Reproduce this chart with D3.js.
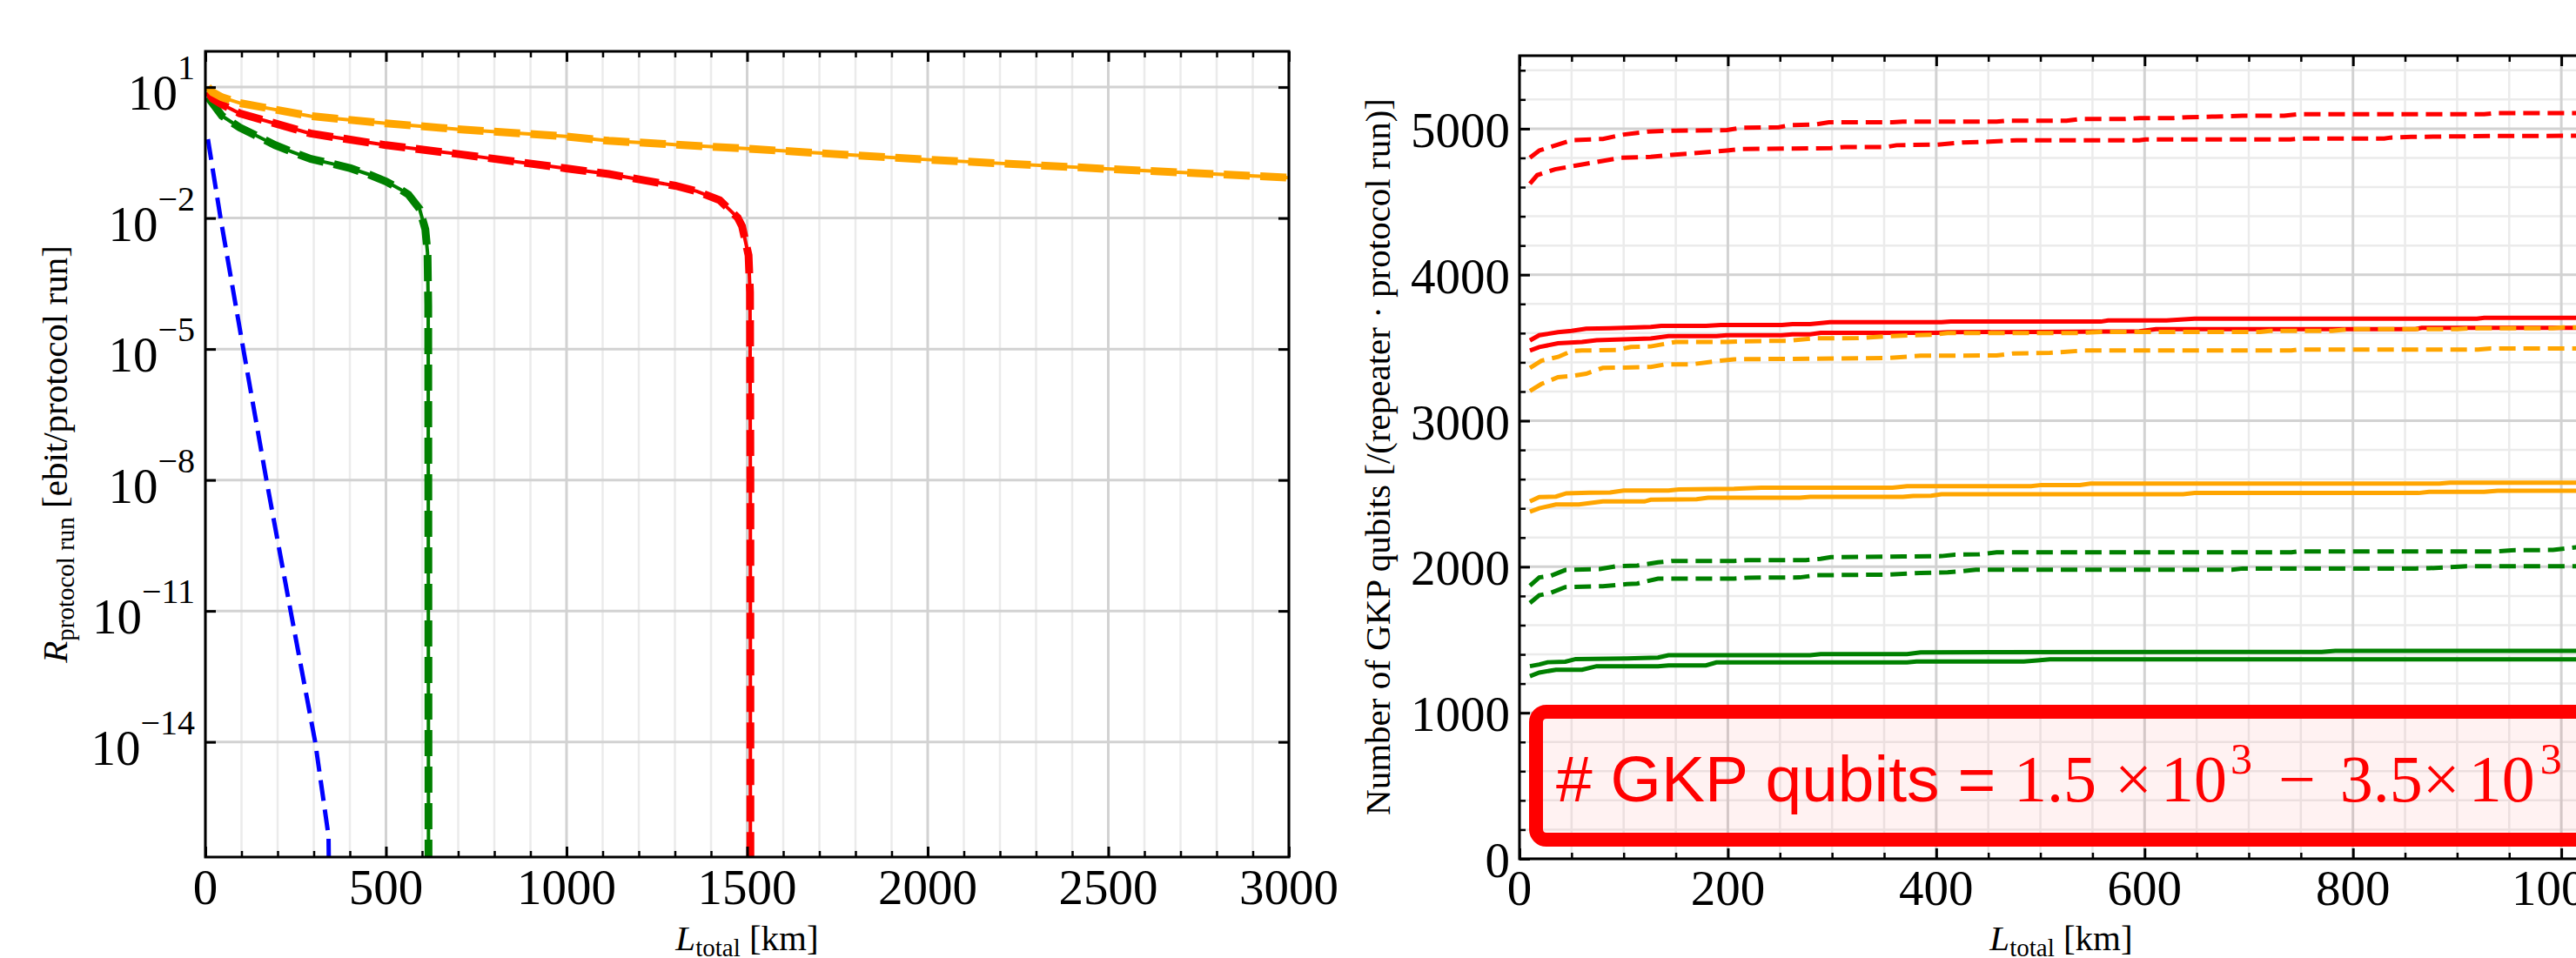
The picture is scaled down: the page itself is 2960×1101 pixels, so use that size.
<!DOCTYPE html>
<html>
<head>
<meta charset="utf-8">
<script src="https://cdn.jsdelivr.net/npm/d3@7"></script>
<style>
  body { margin: 0; background: #fff; }
  svg { display: block; }
</style>
</head>
<body>
<svg id="fig" width="2960" height="1101"></svg>
<script>
// ---------- left panel data: [L_total km, rate ebit/protocol run] ----------
const rateOrange = [[7,10],[20,7.6],[46,5.85],[95,4.32],[291,2.17],[500,1.476],[697,1.086],[998,0.741],
  [1117,0.589],[1300,0.483],[1498,0.389],[1996,0.219],[2496,0.134],[2991,0.085],[3000,0.084]];
const rateRed = [[7,7.9],[20,5.4],[46,4.0],[95,2.5],[291,0.865],[500,0.468],[697,0.295],[998,0.138],
  [1117,0.102],[1301,0.055],[1361,0.041],[1424,0.0257],[1449,0.0162],[1474,0.0102],[1486,0.0065],
  [1504,0.0014],[1508,2e-4],[1509,1e-8],[1509,1e-20]];
const rateGreen = [[7,5.93],[46,2.19],[95,1.19],[144,0.75],[193,0.469],[242,0.323],[292,0.226],[353,0.174],
  [402,0.138],[451,0.101],[500,0.069],[537,0.047],[562,0.0347],[593,0.0162],[609,0.0055],[615,0.00162],
  [617,1e-4],[618,1e-20]];
const rateBlue = [[7,0.64],[42,0.01],[105,1e-5],[169,1e-8],[236,1e-11],[304,1e-14],[341,7e-17],[346,1e-20]];

const leftXTicks = [0, 500, 1000, 1500, 2000, 2500, 3000];
const leftYTicks = [1e1, 1e-2, 1e-5, 1e-8, 1e-11, 1e-14];
const leftYExp = ["1", "\u22122", "\u22125", "\u22128", "\u221211", "\u221214"];

// ---------- right panel data: [L_total km, number of GKP qubits] ----------
const gkpRedDashHi = [[10,4801],[19,4851],[37,4891],[50,4921],[80,4930],[100,4960],[123,4980],[146,4986],[199,4990],
  [213,5006],[249,5010],[259,5024],[285,5030],[297,5044],[358,5044],[368,5048],[458,5048],[467,5054],[525,5054],
  [538,5066],[581,5066],[595,5073],[628,5073],[641,5079],[668,5083],[694,5089],[734,5089],[747,5099],[926,5099],
  [936,5107],[1040,5107]];
const gkpRedDashLo = [[10,4623],[17,4682],[34,4722],[50,4742],[74,4772],[97,4801],[126,4807],[146,4821],[166,4831],
  [199,4851],[213,4861],[299,4867],[312,4875],[352,4875],[362,4887],[401,4891],[425,4905],[451,4911],[477,4921],
  [595,4921],[601,4927],[740,4927],[750,4933],[830,4933],[836,4939],[856,4944],[936,4950],[1040,4952]];
const gkpRedHi = [[10,3550],[19,3586],[37,3606],[50,3616],[64,3630],[87,3634],[107,3638],[126,3642],[136,3650],
  [179,3650],[193,3656],[252,3656],[262,3662],[279,3662],[298,3675],[405,3675],[414,3679],[558,3679],[565,3687],
  [621,3687],[648,3699],[919,3699],[926,3705],[1040,3705]];
const gkpRedLo = [[10,3481],[19,3505],[37,3530],[60,3540],[74,3552],[93,3556],[126,3564],[143,3580],[189,3580],
  [199,3586],[252,3586],[262,3592],[279,3592],[289,3602],[401,3602],[411,3606],[532,3610],[595,3612],[611,3628],
  [860,3628],[866,3636],[1040,3636]];
const gkpOrangeDashHi = [[10,3362],[21,3411],[37,3437],[50,3477],[60,3481],[93,3485],[107,3505],[126,3509],[150,3540],
  [199,3540],[213,3544],[259,3548],[282,3564],[325,3566],[358,3580],[398,3590],[411,3600],[535,3600],[558,3608],
  [711,3608],[720,3616],[780,3616],[800,3628],[900,3628],[913,3634],[992,3634],[1002,3640],[1040,3640]];
const gkpOrangeDashLo = [[10,3203],[21,3252],[37,3298],[50,3306],[64,3322],[80,3362],[126,3368],[140,3386],[166,3387],
  [193,3411],[206,3421],[279,3425],[352,3429],[385,3445],[458,3447],[474,3461],[509,3465],[542,3481],[741,3481],
  [747,3487],[920,3487],[932,3495],[1040,3495]];
const gkpOrangeHi = [[10,2447],[19,2477],[35,2481],[45,2503],[67,2507],[87,2509],[100,2522],[143,2522],[153,2530],
  [206,2534],[232,2542],[358,2542],[372,2552],[491,2552],[501,2560],[538,2560],[548,2570],[883,2570],[893,2576],
  [1040,2576]];
const gkpOrangeLo = [[10,2377],[19,2401],[35,2427],[57,2427],[80,2447],[120,2447],[126,2459],[170,2463],[181,2473],
  [269,2473],[279,2479],[368,2479],[378,2485],[395,2487],[405,2497],[637,2497],[648,2505],[863,2505],[873,2513],
  [926,2513],[939,2521],[1040,2521]];
const gkpGreenDashHi = [[10,1871],[19,1927],[30,1938],[44,1978],[77,1984],[93,2004],[113,2008],[133,2030],[146,2040],
  [206,2040],[219,2046],[275,2046],[289,2054],[299,2066],[368,2070],[405,2073],[418,2083],[441,2085],[458,2099],
  [741,2099],[747,2105],[939,2105],[952,2113],[992,2115],[1014,2133],[1040,2136]];
const gkpGreenDashLo = [[10,1752],[19,1805],[30,1821],[44,1861],[80,1867],[103,1881],[113,1885],[133,1919],[206,1919],
  [219,1925],[269,1927],[285,1942],[352,1946],[385,1958],[411,1962],[425,1970],[438,1980],[684,1980],[694,1988],
  [860,1988],[873,1990],[909,2004],[1040,2004]];
const gkpGreenHi = [[10,1319],[19,1331],[27,1346],[44,1350],[54,1368],[103,1372],[133,1378],[143,1394],[279,1394],
  [289,1402],[372,1402],[385,1414],[770,1417],[783,1424],[1040,1424]];
const gkpGreenLo = [[10,1251],[19,1275],[35,1295],[60,1295],[74,1319],[133,1319],[143,1325],[179,1325],[189,1345],
  [372,1345],[381,1351],[484,1351],[497,1359],[509,1366],[1040,1366]];

const rightXTicks = [0, 200, 400, 600, 800, 1000];
const rightYTicks = [0, 1000, 2000, 3000, 4000, 5000];

// ---------- drawing ----------
const svg = d3.select("#fig");
const serif = "'Liberation Serif','Times New Roman',serif";
const RED = "#ff0000", ORANGE = "#ffa500", GREEN = "#008000", BLUE = "#0000ff";

function grid(g, x, y, box, xMajor, xMinor, yMajor, yMinor) {
  const minor = g.append("g").attr("stroke", "#ebebeb").attr("stroke-width", 2.5);
  minor.selectAll(".vx").data(xMinor).join("line")
    .attr("x1", d => x(d)).attr("x2", d => x(d)).attr("y1", box.top).attr("y2", box.bottom);
  minor.selectAll(".hy").data(yMinor).join("line")
    .attr("y1", d => y(d)).attr("y2", d => y(d)).attr("x1", box.left).attr("x2", box.right);
  const major = g.append("g").attr("stroke", "#d2d2d2").attr("stroke-width", 3);
  major.selectAll(".vx").data(xMajor).join("line")
    .attr("x1", d => x(d)).attr("x2", d => x(d)).attr("y1", box.top).attr("y2", box.bottom);
  major.selectAll(".hy").data(yMajor).join("line")
    .attr("y1", d => y(d)).attr("y2", d => y(d)).attr("x1", box.left).attr("x2", box.right);
}

function ticks(g, x, y, box, xMajor, xMinor, yMajor, yMinor) {
  const mk = (axis, vals, size, tr, w) => {
    const a = g.append("g").attr("transform", tr)
      .call(axis.tickValues(vals).tickSizeInner(-size).tickSizeOuter(0).tickFormat(""));
    a.select(".domain").remove();
    a.selectAll("line").attr("stroke", "#000").attr("stroke-width", w);
  };
  mk(d3.axisBottom(x), xMajor, 12, `translate(0,${box.bottom})`, 3);
  mk(d3.axisTop(x), xMajor, 12, `translate(0,${box.top})`, 3);
  mk(d3.axisLeft(y), yMajor, 12, `translate(${box.left},0)`, 3);
  mk(d3.axisRight(y), yMajor, 12, `translate(${box.right},0)`, 3);
  if (xMinor.length) {
    mk(d3.axisBottom(x), xMinor, 7, `translate(0,${box.bottom})`, 2.5);
    mk(d3.axisTop(x), xMinor, 7, `translate(0,${box.top})`, 2.5);
  }
  if (yMinor.length) {
    mk(d3.axisLeft(y), yMinor, 7, `translate(${box.left},0)`, 2.5);
    mk(d3.axisRight(y), yMinor, 7, `translate(${box.right},0)`, 2.5);
  }
  g.append("rect").attr("x", box.left).attr("y", box.top)
    .attr("width", box.right - box.left).attr("height", box.bottom - box.top)
    .attr("fill", "none").attr("stroke", "#000").attr("stroke-width", 3);
}

function clip(id, box) {
  svg.append("clipPath").attr("id", id).append("rect")
    .attr("x", box.left).attr("y", box.top)
    .attr("width", box.right - box.left).attr("height", box.bottom - box.top);
}

// ===== left panel =====
const L = { left: 236, right: 1481, top: 59, bottom: 985 };
const xL = d3.scaleLinear().domain([0, 3000]).range([L.left, L.right]);
const yL = d3.scaleLog().domain([2.3e-17, 66]).range([L.bottom, L.top]);
clip("clipL", L);

const gL = svg.append("g");
grid(gL, xL, yL, L, leftXTicks, d3.range(100, 3000, 100).filter(v => v % 500), leftYTicks, []);

const lineL = d3.line().x(d => xL(d[0])).y(d => yL(d[1]));
const dataL = gL.append("g").attr("clip-path", "url(#clipL)").attr("fill", "none");
dataL.append("path").datum(rateBlue).attr("d", lineL)
  .attr("stroke", BLUE).attr("stroke-width", 5).attr("stroke-dasharray", "24,10");
[[rateGreen, GREEN], [rateRed, RED], [rateOrange, ORANGE]].forEach(([d, c]) => {
  dataL.append("path").datum(d).attr("d", lineL).attr("stroke", c).attr("stroke-width", 4);
  dataL.append("path").datum(d).attr("d", lineL).attr("stroke", c)
    .attr("stroke-width", 9).attr("stroke-dasharray", "30,12");
});
ticks(gL, xL, yL, L, leftXTicks, d3.range(100, 3000, 100).filter(v => v % 500), leftYTicks, []);

gL.append("g").selectAll("text").data(leftXTicks).join("text")
  .attr("x", d => xL(d)).attr("y", L.bottom + 54)
  .attr("text-anchor", "middle").attr("font-family", serif).attr("font-size", 57)
  .text(d => d);

leftYTicks.forEach((v, i) => {
  const t = gL.append("text").attr("x", L.left - 12).attr("y", yL(v) + 26)
    .attr("text-anchor", "end").attr("font-family", serif).attr("font-size", 57);
  t.append("tspan").text("10");
  t.append("tspan").attr("font-size", 40).attr("dy", -35).text(leftYExp[i]);
});

const ylabL = svg.append("text").attr("transform", `translate(77,522) rotate(-90)`)
  .attr("text-anchor", "middle").attr("font-family", serif).attr("font-size", 41);
ylabL.append("tspan").attr("font-style", "italic").text("R");
ylabL.append("tspan").attr("font-size", 29).attr("dy", 8).text("protocol run");
ylabL.append("tspan").attr("dy", -8).text(" [ebit/protocol run]");

const xlabL = svg.append("text").attr("x", (L.left + L.right) / 2).attr("y", 1092)
  .attr("text-anchor", "middle").attr("font-family", serif).attr("font-size", 41);
xlabL.append("tspan").attr("font-style", "italic").text("L");
xlabL.append("tspan").attr("font-size", 29).attr("dy", 7).text("total");
xlabL.append("tspan").attr("dy", -7).text(" [km]");

// ===== right panel =====
const R = { left: 1746, right: 2991, top: 64, bottom: 987 };
const xR = d3.scaleLinear().domain([0, 1040]).range([R.left, R.right]);
const yR = d3.scaleLinear().domain([0, 5500]).range([R.bottom, R.top]);
clip("clipR", R);

const xMinorR = d3.range(50, 1040, 50).filter(v => v % 200);
const yMinorR = d3.range(200, 5500, 200).filter(v => v % 1000);
const gR = svg.append("g");
grid(gR, xR, yR, R, rightXTicks, xMinorR, rightYTicks, yMinorR);

const gkpSeries = [
  [gkpRedDashHi, RED, true], [gkpRedDashLo, RED, true], [gkpRedHi, RED, false], [gkpRedLo, RED, false],
  [gkpOrangeDashHi, ORANGE, true], [gkpOrangeDashLo, ORANGE, true], [gkpOrangeHi, ORANGE, false], [gkpOrangeLo, ORANGE, false],
  [gkpGreenDashHi, GREEN, true], [gkpGreenDashLo, GREEN, true], [gkpGreenHi, GREEN, false], [gkpGreenLo, GREEN, false]
];
const lineR = d3.line().x(d => xR(d[0])).y(d => yR(d[1]));
const dataR = gR.append("g").attr("clip-path", "url(#clipR)").attr("fill", "none");
gkpSeries.forEach(([d, c, dashed]) => {
  dataR.append("path").datum(d).attr("d", lineR).attr("stroke", c).attr("stroke-width", 5)
    .attr("stroke-dasharray", dashed ? "19,9" : null);
});

// annotation box
gR.append("rect").attr("x", 1765).attr("y", 818).attr("width", 1400).attr("height", 147)
  .attr("rx", 12).attr("fill", RED).attr("fill-opacity", 0.05)
  .attr("stroke", RED).attr("stroke-width", 16);
const note = gR.append("text").attr("x", 1788).attr("y", 921).attr("fill", RED).attr("font-size", 75)
  .attr("font-family", "'Liberation Sans',Arial,sans-serif");
note.append("tspan").text("# GKP qubits = ");
const mathParts = [["1.5", 0, 76, 0], ["\u00d7", 21, 76, 0], ["10", 10, 76, 0], ["3", 4, 50, -32],
  ["\u2212", 30, 76, 32], ["3.5", 28, 76, 0], ["\u00d7", 0, 76, 0], ["10", 10, 76, 0], ["3", 6, 50, -32]];
mathParts.forEach(([s, dx, fs, dy]) => {
  note.append("tspan").attr("font-family", serif).attr("font-size", fs)
    .attr("dx", dx).attr("dy", dy).text(s);
});

ticks(gR, xR, yR, R, rightXTicks, xMinorR, rightYTicks, yMinorR);

gR.append("g").selectAll("text").data(rightXTicks).join("text")
  .attr("x", d => xR(d)).attr("y", R.bottom + 53)
  .attr("text-anchor", "middle").attr("font-family", serif).attr("font-size", 57)
  .text(d => d);
gR.append("g").selectAll("text").data(rightYTicks).join("text")
  .attr("x", R.left - 11).attr("y", d => yR(d) + 21)
  .attr("text-anchor", "end").attr("font-family", serif).attr("font-size", 57)
  .text(d => d);

svg.append("text").attr("transform", `translate(1597,525) rotate(-90)`)
  .attr("text-anchor", "middle").attr("font-family", serif).attr("font-size", 41)
  .text("Number of GKP qubits [/(repeater \u00b7 protocol run)]");

const xlabR = svg.append("text").attr("x", (R.left + R.right) / 2).attr("y", 1092)
  .attr("text-anchor", "middle").attr("font-family", serif).attr("font-size", 41);
xlabR.append("tspan").attr("font-style", "italic").text("L");
xlabR.append("tspan").attr("font-size", 29).attr("dy", 7).text("total");
xlabR.append("tspan").attr("dy", -7).text(" [km]");
</script>
</body>
</html>
